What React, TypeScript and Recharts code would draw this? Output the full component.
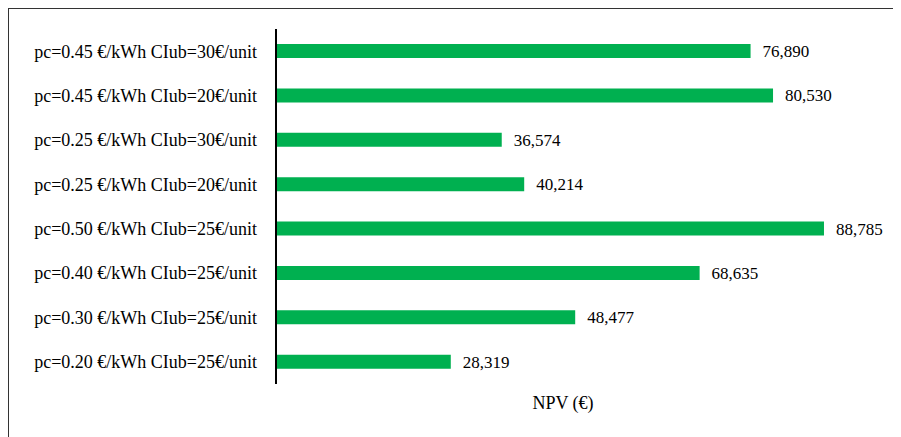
import { Bar, BarChart, LabelList, XAxis, YAxis } from "recharts";

const scenarios = [
  "pc=0.45 €/kWh CIub=30€/unit",
  "pc=0.45 €/kWh CIub=20€/unit",
  "pc=0.25 €/kWh CIub=30€/unit",
  "pc=0.25 €/kWh CIub=20€/unit",
  "pc=0.50 €/kWh CIub=25€/unit",
  "pc=0.40 €/kWh CIub=25€/unit",
  "pc=0.30 €/kWh CIub=25€/unit",
  "pc=0.20 €/kWh CIub=25€/unit",
];

const npv = [76890, 80530, 36574, 40214, 88785, 68635, 48477, 28319];

const data = scenarios.map((name, i) => ({ name, npv: npv[i] }));

const font = "'Liberation Serif', 'DejaVu Serif', serif";

export default function App() {
  return (
    <div
      style={{
        width: 893,
        height: 429,
        borderTop: "1px solid #333",
        borderLeft: "1px solid #333",
        boxSizing: "border-box",
        fontFamily: font,
      }}
    >
      <BarChart
        width={892}
        height={428}
        data={data}
        layout="vertical"
        barSize={14}
        margin={{ top: 20, right: 51, left: 0, bottom: 15 }}
      >
        <XAxis
          type="number"
          domain={[0, 93000]}
          axisLine={false}
          tickLine={false}
          tick={false}
          height={38}
          label={{ value: "NPV (€)", position: "center", fill: "#000", fontSize: 18, fontFamily: font }}
        />
        <YAxis
          type="category"
          dataKey="name"
          width={267}
          axisLine={{ stroke: "#000", strokeWidth: 2 }}
          tickLine={false}
          tickMargin={13}
          interval={0}
          tick={{ fill: "#000", fontSize: 18, fontFamily: font }}
        />
        <Bar dataKey="npv" fill="#00B050" isAnimationActive={false}>
          <LabelList
            dataKey="npv"
            position="right"
            offset={12}
            formatter={(v: number) => v.toLocaleString("en-US")}
            style={{ fill: "#000", fontSize: 17, fontFamily: font }}
          />
        </Bar>
      </BarChart>
    </div>
  );
}
